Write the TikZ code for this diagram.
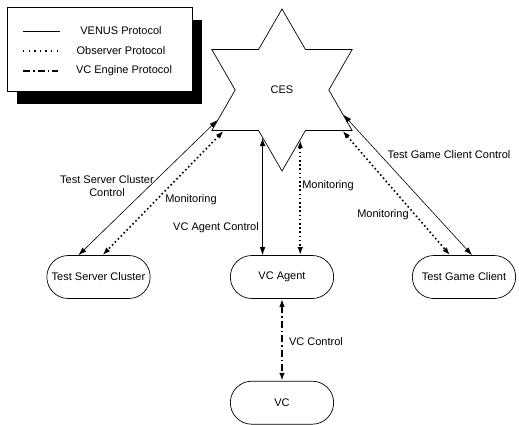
\documentclass[tikz,border=0pt]{standalone}
\usepackage{fontspec}
\setmainfont{Liberation Sans}
\usetikzlibrary{arrows.meta, shapes.geometric, shapes.misc, positioning}
\tikzset{>={Latex[length=8pt,width=5.5pt]}}
\tikzset{
    box/.style={draw, rounded rectangle, minimum width=110pt, minimum height=43pt, line width=0.7pt, font=\fontsize{11}{13}\selectfont},
    venus/.style={<->, line width=0.6pt},
    observer/.style={<->, line width=1.6pt, dash pattern=on 1.6pt off 2.6pt},
    engine/.style={<->, line width=1.5pt, dash pattern=on 7pt off 3pt on 1.5pt off 3pt},
    lbl/.style={font=\fontsize{11}{13}\selectfont, inner sep=1pt},
}

\begin{document}
\begin{tikzpicture}[x=1pt, y=-1pt]
    \useasboundingbox (0,0) rectangle (519,424);

    %legend with its shadow
    \fill[black] (17,20) rectangle (202,104);
    \draw[fill=white, line width=0.6pt] (7,7) rectangle (192,91);
    \draw[line width=0.6pt] (23,31) -- (60,31);
    \draw[line width=1.4pt, dash pattern=on 1.4pt off 4.2pt] (23,51) -- (60,51);
    \draw[line width=1.5pt, dash pattern=on 7pt off 3pt on 1.5pt off 3pt] (23,71) -- (58,71);
    \node[lbl] (legvenus) at (121,31) {VENUS Protocol};
    \node[lbl] (legobs) at (121,51) {Observer Protocol};
    \node[lbl] (legeng) at (124,71) {VC Engine Protocol};

    %the star and the components
    \node[draw, star, star points=6, star point ratio=1.73, minimum size=162pt,
        inner sep=0pt, line width=0.7pt, lbl] (ces) at (282,90) {CES};
    \node[box] (tsc) at (98.5,277) {Test Server Cluster};
    \node[box] (vca) at (282,277) {VC Agent};
    \node[box] (tgc) at (464,277) {Test Game Client};
    \node[box, below=82pt of vca] (vc) {VC};

    %left pair
    \draw[venus] (ces.205) -- ([xshift=-20pt]tsc.north);
    \draw[observer] (ces.215) -- ([xshift=4pt]tsc.north);
    \node[lbl, align=center] (tsclbl) at (107,186) {Test Server Cluster\\Control};
    \node[lbl] (monleft) at (191,200) {Monitoring};

    %middle pair
    \draw[venus] (ces.248) -- (ces.248 |- vca.north);
    \draw[observer] (ces.290) -- (ces.290 |- vca.north);
    \node[lbl] (vcalbl) at (216,228) {VC Agent Control};
    \node[lbl] (monmid) at (328,186) {Monitoring};

    %right pair
    \draw[venus] (ces.338) -- ([xshift=8pt]tgc.north);
    \draw[observer] (ces.326) -- ([xshift=-14pt]tgc.north);
    \node[lbl] (tgclbl) at (449,155) {Test Game Client Control};
    \node[lbl] (monright) at (383,215) {Monitoring};

    %engine link
    \draw[engine] (vca.south) -- (vc.north);
    \node[lbl] (vclbl) at (316,342) {VC Control};
\end{tikzpicture}
\end{document}
